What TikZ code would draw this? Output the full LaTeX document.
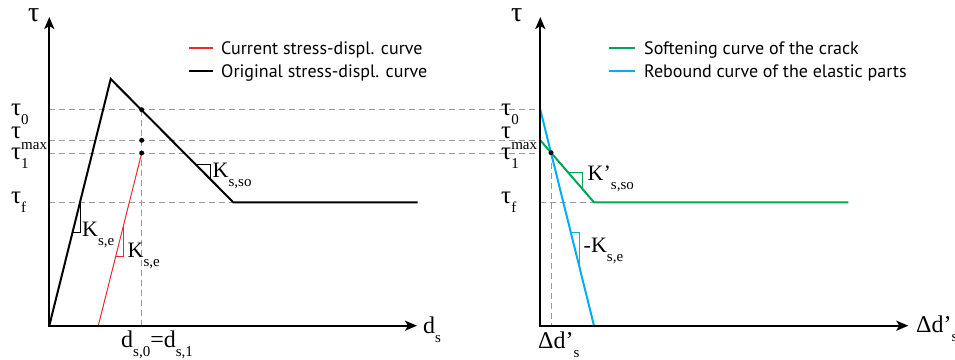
\documentclass[tikz,border=0pt]{standalone}
\usepackage{fontspec}
\setmainfont{Liberation Serif}
\newfontfamily\legfont{PT Sans}
\usetikzlibrary{arrows.meta}
\definecolor{cgreen}{HTML}{00A651}
\definecolor{cblue}{HTML}{00AEEF}
\definecolor{cred}{HTML}{EE2B2B}
\definecolor{cdash}{HTML}{9B9B9B}
\newcommand\lsub[2][9pt]{\raisebox{-#1}{\fontsize{15}{15}\selectfont #2}}
\begin{document}
\begin{tikzpicture}[x=1pt,y=-1pt,
  axis/.style={line width=2.2pt, {Stealth[length=12pt,width=10pt,inset=3pt]}-{Stealth[length=12pt,width=10pt,inset=3pt]}},
  curve/.style={line width=2pt, line join=miter},
  guide/.style={cdash, line width=1pt, dash pattern=on 6pt off 4pt},
  tri/.style={line width=1pt},
  dot/.style={circle, fill=black, inner sep=0pt, minimum size=5pt},
  tlab/.style={inner sep=0pt, anchor=base west, font=\fontsize{25}{25}\selectfont},
  ttop/.style={inner sep=0pt, anchor=base west, font=\fontsize{28}{28}\selectfont},
  klab/.style={inner sep=0pt, anchor=base west, font=\fontsize{22}{22}\selectfont},
  dlab/.style={inner sep=0pt, anchor=base west, font=\fontsize{24}{24}\selectfont},
  leg/.style={inner sep=0pt, anchor=base west, font=\legfont\fontsize{18}{18}\selectfont},
]
\useasboundingbox (0,0) rectangle (955,359);
% ---------- coordinates: left panel
\coordinate (O)  at (49.3,325.7);
\coordinate (Y)  at (49.3,17);
\coordinate (X)  at (417,325.7);
\coordinate (P)  at (110.7,79);
\coordinate (S)  at (233.3,202.3);
\coordinate (E)  at (417.7,202.3);
\coordinate (R0) at (98.3,325.7);
\coordinate (R1) at (141.7,153);
\coordinate (V0) at (141.7,109.7);
\coordinate (Vm) at (141.7,140.3);
\coordinate (Vb) at (141.7,325.7);
\coordinate (Lf) at (49.3,202.3);
% ---------- coordinates: right panel
\coordinate (O2) at (540.3,325.7);
\coordinate (Y2) at (540.3,17);
\coordinate (X2) at (908.3,325.7);
\coordinate (B0) at (540.3,109.7);
\coordinate (B1) at (594,325.7);
\coordinate (G0) at (540.3,140.3);
\coordinate (G1) at (594,202.3);
\coordinate (G2) at (848.3,202.3);
\coordinate (I)  at (551,152.7);
\coordinate (Ib) at (551,325.7);
\coordinate (R2) at (540.3,153);
\coordinate (Rf) at (540.3,202.3);
\coordinate (L0) at (49.3,109.7);
\coordinate (Lm) at (49.3,140.3);
\coordinate (L1) at (49.3,153);
\coordinate (M0) at (540.3,109.7);
\coordinate (Mm) at (540.3,140.3);
% ---------- guides
\draw[guide] (L0) -- (M0);
\draw[guide] (Lm) -- (Mm);
\draw[guide] (L1) -- (R2);
\draw[guide] (Lf) -- (S);
\draw[guide] (Rf) -- (G1);
\draw[guide] (V0) -- (Vb);
\draw[guide] (I) -- (Ib);
% ---------- left curves
\draw[curve] (O) -- (P) -- (S) -- (E);
\draw[cred, line width=1pt] (R0) -- (R1);
% slope triangles left
\draw[tri] (72.5,232.7) coordinate (ka) -- (80,232.7) coordinate (kb) -- (80,202.3) coordinate (kc);
\draw[tri, cred] (115.6,256.7) coordinate (ra) -- (123.3,256.7) coordinate (rb) -- (123.3,226.3) coordinate (rc);
\draw[tri] (196,164.3) coordinate (sa) -- (210.7,164.3) coordinate (sb) -- (210.7,179) coordinate (sc);
% ---------- right curves
\draw[curve, cgreen] (G0) -- (G1) -- (G2);
\draw[curve, cblue] (B0) -- (B1);
\draw[tri, cgreen] (568.3,172.6) coordinate (ga) -- (582.7,172.6) coordinate (gb) -- (582.7,189.3) coordinate (gc);
\draw[tri, cblue] (570.8,232.3) coordinate (ba) -- (579.3,232.3) coordinate (bb) -- (579.3,266.5) coordinate (bc);
% ---------- axes
\draw[axis] (Y) -- (O) -- (X);
\draw[axis] (Y2) -- (O2) -- (X2);
% ---------- dots
\node[dot] (d0) at (V0) {};
\node[dot] (dm) at (Vm) {};
\node[dot] (d1) at (R1) {};
\node[dot] (d2) at (I) {};
% ---------- legend
\draw[cred, line width=1.2pt] (189,48) coordinate (la) -- (213,48) coordinate (lb);
\node[leg] (lg1) at (221,54.5) {Current stress-displ. curve};
\draw[line width=2pt] (189,71) coordinate (lc) -- (213,71) coordinate (ld);
\node[leg] (lg2) at (221,77.5) {Original stress-displ. curve};
\draw[cgreen, line width=2pt] (609.3,48.3) coordinate (le) -- (635,48.3) coordinate (lf);
\node[leg] (lg3) at (644,54.5) {Softening curve of the crack};
\draw[cblue, line width=2pt] (609.3,71) coordinate (lgg) -- (635,71) coordinate (lh);
\node[leg] (lg4) at (644,77.5) {Rebound curve of the elastic parts};
% ---------- labels left
\node[ttop] (tauL) at (28,21) {τ};
\node[tlab] (t0L) at (11,115) {τ\lsub{0}};
\node[tlab] (tmL) at (11,138) {τ\lsub[11pt]{max}};
\node[tlab] (t1L) at (11,159) {τ\lsub{1}};
\node[tlab] (tfL) at (11,203) {τ\lsub{f}};
\node[klab] (k1) at (82,236) {K\lsub{s,e}};
\node[klab] (k2) at (127.5,257) {K\lsub{s,e}};
\node[klab] (k3) at (212.5,177) {K\lsub{s,so}};
\node[dlab] (dsl) at (423,333) {d\lsub{s}};
\node[dlab] (d01) at (121,347) {d\lsub{s,0}=d\lsub{s,1}};
% ---------- labels right
\node[ttop] (tauR) at (511,21) {τ};
\node[tlab] (t0R) at (501,115) {τ\lsub{0}};
\node[tlab] (tmR) at (501,138) {τ\lsub[11pt]{max}};
\node[tlab] (t1R) at (501,159) {τ\lsub{1}};
\node[tlab] (tfR) at (501,203) {τ\lsub{f}};
\node[klab] (k4) at (587.5,180) {K’\lsub{s,so}};
\node[klab] (k5) at (583.5,252) {-K\lsub{s,e}};
\node[dlab] (dd1) at (538,348) {Δd’\lsub{s}};
\node[dlab] (dd2) at (916,332) {Δd’\lsub{s}};
\end{tikzpicture}
\end{document}
